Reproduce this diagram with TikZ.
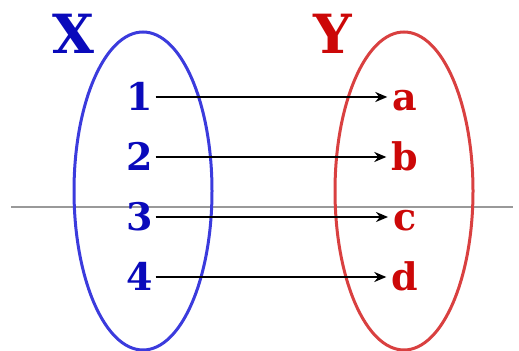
\documentclass[tikz,border=0pt]{standalone}
\usepackage{fontspec}
\setmainfont{DejaVu Serif}
\usepackage{xcolor}
\usetikzlibrary{positioning}
\usetikzlibrary{arrows.meta}
\usetikzlibrary{shapes.geometric}
\definecolor{setblue}{HTML}{3B3BDD}
\definecolor{txtblue}{HTML}{0A0ABB}
\definecolor{setred}{HTML}{D94040}
\definecolor{txtred}{HTML}{CC0808}
\definecolor{cutgray}{HTML}{999999}

\begin{document}
\begin{tikzpicture}[
    x=0.5pt, y=-0.5pt,
    setbox/.style={ellipse, line width=1.5pt, minimum width=69pt, minimum height=159pt, inner sep=0pt},
    setlbl/.style={font=\fontsize{27}{30}\selectfont\bfseries},
    elem/.style={font=\fontsize{19}{22}\selectfont\bfseries, inner sep=0pt, text height=14pt, text depth=0pt},
    maparrow/.style={line width=1pt, -{Stealth[length=6pt, width=5pt]}}
]
\useasboundingbox (0,0) rectangle (519,351);

% Horizontal line
\coordinate (cutL) at (11,207);
\coordinate (cutR) at (513,207);
\draw[line width=1pt, draw=cutgray] (cutL) -- (cutR);

% Sets
\node[setbox, draw=setblue] (setX) at (143,191) {};
\node[setbox, draw=setred] (setY) at (404,191) {};
\node[setlbl, text=txtblue] (lblX) at (73,34) {X};
\node[setlbl, text=txtred] (lblY) at (333,34) {Y};

% Elements of X
\node[elem, text=txtblue] (x1) at (140,97) {1};
\node[elem, text=txtblue] (x2) at (140,157) {2};
\node[elem, text=txtblue] (x3) at (140,217) {3};
\node[elem, text=txtblue] (x4) at (140,277) {4};

% Elements of Y
\node[elem, text=txtred] (ya) at (405,97) {a};
\node[elem, text=txtred] (yb) at (405,157) {b};
\node[elem, text=txtred] (yc) at (405,217) {c};
\node[elem, text=txtred] (yd) at (405,277) {d};

% Mapping
\draw[maparrow] ([xshift=1pt]x1.east) -- ([xshift=-2.5pt]ya.west);
\draw[maparrow] ([xshift=1pt]x2.east) -- ([xshift=-2.5pt]yb.west);
\draw[maparrow] ([xshift=1pt]x3.east) -- ([xshift=-2.5pt]yc.west);
\draw[maparrow] ([xshift=1pt]x4.east) -- ([xshift=-2.5pt]yd.west);

\end{tikzpicture}
\end{document}
